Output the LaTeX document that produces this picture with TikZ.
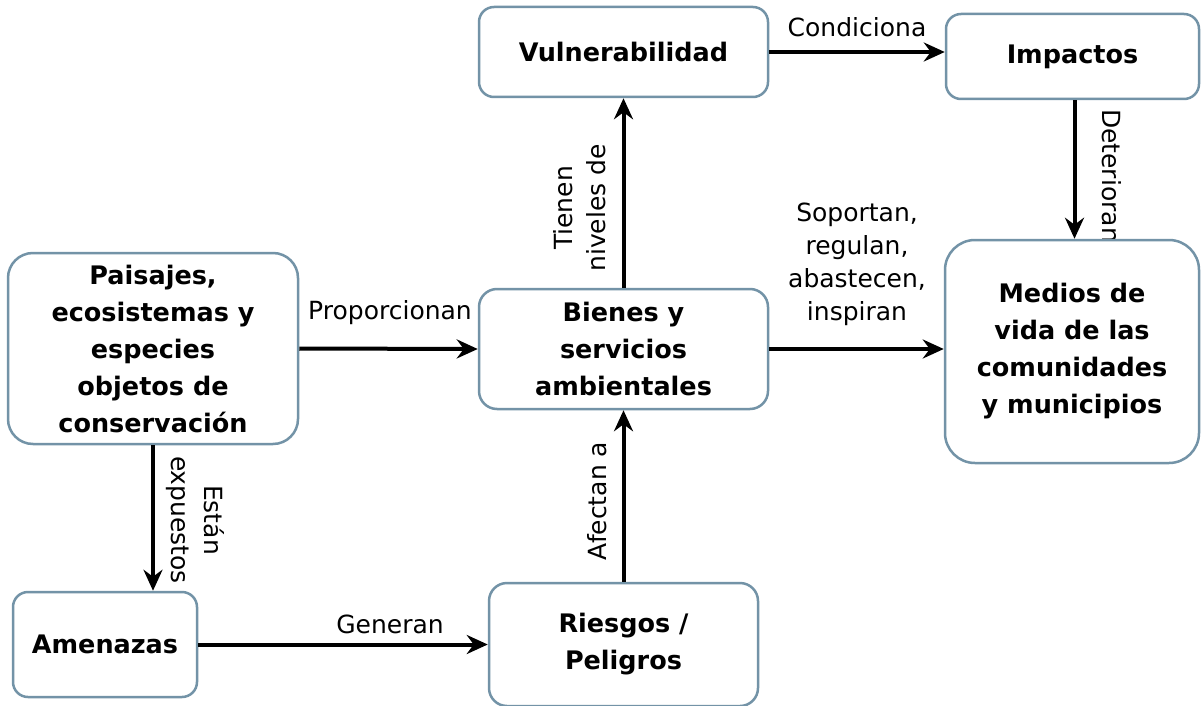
\documentclass[tikz,border=0pt]{standalone}
\usepackage{fontspec}
\setmainfont{DejaVu Sans}
\usetikzlibrary{arrows.meta}
\definecolor{boxline}{HTML}{7393A7}
\tikzset{
  box/.style={draw=boxline, line width=2.5pt, fill=white, align=center,
    font=\bfseries\fontsize{25.5}{37}\selectfont, inner sep=0pt},
  lbl/.style={align=center, font=\fontsize{25}{33}\selectfont, inner sep=0pt},
  conn/.style={line width=4pt, -{Stealth[length=21pt, width=19pt, inset=7pt]}}
}
\begin{document}
\begin{tikzpicture}[x=1pt, y=-1pt]
\useasboundingbox (0,0) rectangle (1201,706);
\node[lbl, rotate=-90] (ldet) at (1112,176) {Deterioran};
\node[box, minimum width=290pt, minimum height=191pt, rounded corners=25pt] (pai) at (153,348.5)
  {Paisajes,\\ecosistemas y\\especies\\objetos de\\conservación};
\node[box, minimum width=289pt, minimum height=90pt, rounded corners=15pt] (vul) at (623.5,52) {Vulnerabilidad};
\node[box, minimum width=253pt, minimum height=85pt, rounded corners=15pt] (imp) at (1072.5,56.5) {Impactos};
\node[box, minimum width=289pt, minimum height=120pt, rounded corners=18pt] (bie) at (623.5,349)
  {Bienes y\\servicios\\ambientales};
\node[box, minimum width=254pt, minimum height=223pt, rounded corners=30pt] (med) at (1072,351.5)
  {Medios de\\vida de las\\comunidades\\y municipios};
\node[box, minimum width=184pt, minimum height=105pt, rounded corners=15pt] (ame) at (105,644.5) {Amenazas};
\node[box, minimum width=269pt, minimum height=123pt, rounded corners=18pt] (rie) at (623.5,644.5)
  {Riesgos /\\Peligros};
% connectors
\draw[conn] (pai.east) -- (bie.west);
\draw[conn] (bie.north) -- (vul.south);
\draw[conn] (vul.east) -- (vul.east -| imp.west);
\draw[conn] ([xshift=2pt]imp.south) -- ([xshift=2pt]imp.south |- med.north);
\draw[conn] (bie.east) -- (bie.east -| med.west);
\draw[conn] (pai.south) -- (pai.south |- ame.north);
\draw[conn] (ame.east) -- (ame.east -| rie.west);
\draw[conn] (rie.north) -- (bie.south);
% labels
\node[lbl] (lpro) at (390,313) {Proporcionan};
\node[lbl] (lcon) at (857,27) {Condiciona};
\node[lbl] (lsop) at (857,264) {Soportan,\\regulan,\\abastecen,\\inspiran};
\node[lbl] (lgen) at (390,624) {Generan};
\node[lbl, rotate=90] (ltie) at (580,208) {Tienen\\niveles de};
\node[lbl, rotate=-90] (lest) at (195,520) {Están\\expuestos};
\node[lbl, rotate=90] (lafe) at (597,501) {Afectan a};
\end{tikzpicture}
\end{document}
